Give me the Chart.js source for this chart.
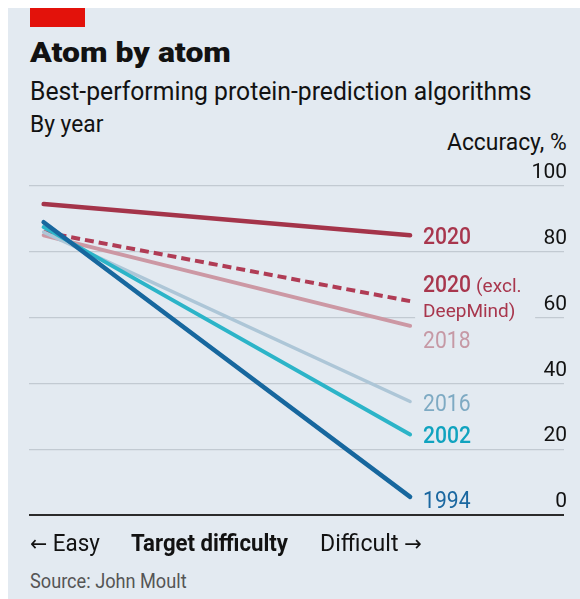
<!DOCTYPE html>
<html>
<head>
<meta charset="utf-8">
<script src="https://cdn.jsdelivr.net/npm/chart.js@4.4.1/dist/chart.umd.min.js"></script>
<style>
	html, body { margin: 0; padding: 0; background: #fff; }
	body { width: 580px; height: 599px; position: relative; overflow: hidden; font-family: Roboto, 'Noto Sans', sans-serif; color: #121212; }
	.panel { position: absolute; left: 8px; top: 8px; right: 0; bottom: 0; background: #e3eaf1; }
	.redbar { position: absolute; left: 30px; top: 8px; width: 55px; height: 19px; background: #e3120b; }
	.txt { position: absolute; white-space: nowrap; line-height: 1; transform-origin: left top; }
	.right { transform-origin: right top; }
	.arrow { font-family: 'DejaVu Sans', sans-serif; font-size: 22px; }
	#chart { position: absolute; left: 0; top: 140px; }
</style>
</head>
<body>
<div class="panel"></div>
<div class="redbar"></div>
<div class="txt" data-w="201" style="left:30px; top:39px; font-size:28px; font-weight:900">Atom by atom</div>
<div class="txt" data-w="502" style="left:30px; top:79px; font-size:25px">Best-performing protein-prediction algorithms</div>
<div class="txt" data-w="73" style="left:30px; top:112px; font-size:24px">By year</div>
<div class="txt right" data-w="120" style="right:13px; top:130px; font-size:24px">Accuracy, %</div>
<canvas id="chart" width="580" height="400"></canvas>
<div class="txt" data-w="70" style="left:30px; top:531px; font-size:24px"><span class="arrow">←</span> Easy</div>
<div class="txt" data-w="157" style="left:131px; top:531px; font-size:24px; font-weight:700">Target difficulty</div>
<div class="txt" data-w="102" style="left:320px; top:531px; font-size:24px">Difficult <span class="arrow">→</span></div>
<div class="txt" data-w="157" style="left:30px; top:571px; font-size:20px; color:#555">Source: John Moult</div>
<script>
// squeeze the text to the reference widths (Econ Sans is narrower than Roboto)
document.querySelectorAll('.txt[data-w]').forEach(el => {
	el.style.transform = 'scaleX(' + (el.dataset.w / el.offsetWidth) + ')'
})

const difficulty = [0, 1] // easy -> difficult
const years = ['2020', '2020 (excl. DeepMind)', '2018', '2016', '2002', '1994']
const easyAccuracy = [94.5, 86, 85, 86, 87.5, 89]
const difficultAccuracy = [85, 65, 57.5, 34.5, 24.5, 5.5]
const yTicks = [0, 20, 40, 60, 80, 100]

const lineColours = ['#a4344a', '#b03c55', '#cc98a4', '#adc6d7', '#2cb4c8', '#17679e']
const labelColours = ['#a8364d', '#a8364d', '#c699a5', '#7eaac3', '#10a3bf', '#1a67a0']
const lineWidths = [4.5, 4, 4, 3.5, 4, 4.5]
const bg = '#e3eaf1'

const datasets = years.map((year, i) => ({
	label: year,
	data: difficulty.map((x, j) => ({ x: x, y: j ? difficultAccuracy[i] : easyAccuracy[i] })),
	borderColor: lineColours[i],
	borderWidth: lineWidths[i],
	borderDash: i === 1 ? [9, 5] : [],
	borderCapStyle: i === 1 ? 'butt' : 'round',
	pointRadius: 0,
	order: years.length - i,
}))

function label(ctx, text, x, y, size, weight, colour, squeeze) {
	ctx.save()
	ctx.font = weight + ' ' + size + 'px Roboto, sans-serif'
	ctx.fillStyle = colour
	ctx.textBaseline = 'alphabetic'
	ctx.translate(x, y)
	ctx.scale(squeeze, 1)
	ctx.fillText(text, 0, 0)
	const w = ctx.measureText(text).width * squeeze
	ctx.restore()
	return w
}

const endLabels = {
	id: 'endLabels',
	afterDatasetsDraw(chart) {
		const ctx = chart.ctx
		// baseline offsets from the line end, to keep labels apart
		const shift = [9, -9, 22, 10, 9, 11]
		const weight = [500, 500, 400, 400, 500, 400]
		years.forEach((year, i) => {
			const pt = chart.getDatasetMeta(i).data[1]
			const x = pt.x + 13
			const y = pt.y + shift[i]
			ctx.fillStyle = bg
			if (i === 1) {
				ctx.fillRect(x - 8, y - 18, 120, 46)
				const w = label(ctx, '2020', x, y, 24, weight[i], labelColours[i], 0.88)
				label(ctx, '(excl.', x + w + 5, y, 19, 400, labelColours[i], 1)
				label(ctx, 'DeepMind)', x, y + 25, 19, 400, labelColours[i], 1)
			} else {
				label(ctx, year, x, y, 24, weight[i], labelColours[i], 0.88)
			}
		})
	},
}

new Chart(document.getElementById('chart'), {
	type: 'line',
	data: { datasets: datasets },
	plugins: [endLabels],
	options: {
		responsive: false,
		animation: false,
		layout: { padding: { left: 29, right: 10, top: 46, bottom: 25 } },
		plugins: { legend: { display: false }, tooltip: { enabled: false } },
		scales: {
			x: { type: 'linear', min: -0.04, max: 1.42, display: false },
			y: {
				position: 'right',
				min: 0,
				max: 100,
				afterBuildTicks: scale => {
					scale.ticks = yTicks.map(v => ({ value: v }))
				},
				border: { display: false },
				grid: {
					drawTicks: false,
					color: c => (c.tick.value === 0 ? '#2b2b2b' : '#c2cad2'),
					lineWidth: c => (c.tick.value === 0 ? 2 : 1.3),
				},
				ticks: {
					mirror: true,
					padding: 3,
					labelOffset: -13,
					color: '#121212',
					font: { family: 'Roboto', size: 21 },
				},
			},
		},
	},
})
</script>
</body>
</html>
